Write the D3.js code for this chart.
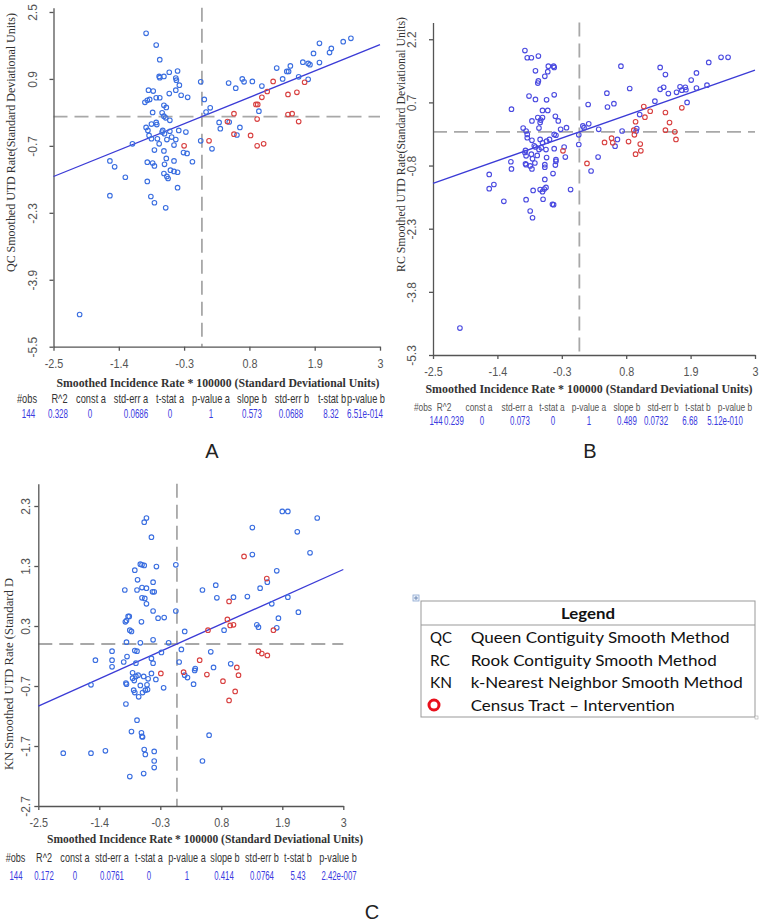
<!DOCTYPE html>
<html><head><meta charset="utf-8">
<script src="https://cdn.jsdelivr.net/npm/d3@7"></script>
<style>
html,body{margin:0;padding:0;background:#fff;}
svg{display:block;}
</style></head>
<body>
<svg id="chart" width="762" height="922"></svg>
<script>
// ---------------- DATA ----------------
const xTicks = [-2.5, -1.4, -0.3, 0.8, 1.9, 3];
const yTicksQC = [-5.5, -3.9, -2.3, -0.7, 0.9, 2.5];
const yTicksRC = [-5.3, -3.8, -2.3, -0.8, 0.7, 2.2];
const yTicksKN = [-2.7, -1.7, -0.7, 0.3, 1.3, 2.3];

const qcBlue = [[-0.94,1.99],[-0.77,1.71],[-0.71,1.36],[-0.72,0.96],[-0.71,0.93],[-0.64,0.96],[-0.55,1.06],[-0.44,0.92],[-0.43,0.87],[-0.41,1.09],[-0.38,0.75],[-0.90,0.63],[-0.82,0.61],[-0.55,0.55],[-0.44,0.63],[-0.35,0.51],[-0.24,0.46],[-0.96,0.34],[-0.92,0.39],[-0.88,0.41],[-0.77,0.45],[-0.71,0.45],[-0.64,0.27],[-0.60,0.22],[-0.83,0.10],[-0.67,0.09],[-0.64,0.01],[-0.61,-0.03],[-0.54,-0.09],[-0.85,-0.18],[-0.77,-0.14],[-0.94,-0.26],[-0.91,-0.33],[-0.76,-0.19],[-0.66,-0.33],[-0.67,-0.37],[-0.63,-0.41],[-0.54,-0.35],[-0.51,-0.49],[-0.39,-0.33],[-0.27,-0.37],[-0.89,-0.45],[-0.75,-0.53],[-0.85,-0.53],[-0.72,-0.65],[-0.59,-0.55],[-0.44,-0.55],[-0.47,-0.68],[-0.80,-0.80],[-0.64,-0.82],[-0.31,-0.86],[-0.25,-0.88],[-0.16,-1.08],[-0.60,-1.00],[-0.92,-1.09],[-0.83,-1.11],[-0.80,-1.18],[-0.63,-1.14],[-0.47,-1.06],[-0.53,-1.28],[-0.47,-1.31],[-0.41,-1.33],[-0.64,-1.36],[-0.59,-1.43],[-0.57,-1.48],[-0.92,-1.55],[-0.41,-1.70],[-1.17,-0.65],[-1.55,-1.06],[-1.47,-1.20],[-1.29,-1.45],[-1.55,-1.89],[-0.86,-1.91],[-0.80,-2.06],[-0.61,-2.18],[-2.06,-4.73],
[-0.02,0.83],[0.04,0.41],[0.07,0.11],[0.14,0.21],[-0.02,-0.58],[0.17,-0.77],[0.29,-0.14],[0.31,-0.29],[0.45,0.80],[0.46,-0.13],[0.57,0.68],[0.59,-0.44],[0.64,-0.26],[0.68,0.90],[0.71,0.83],[0.85,0.84],[0.96,0.13],[1.01,0.73],[1.26,1.16],[1.36,0.90],[1.43,1.08],[1.46,1.08],[1.49,1.21],[1.63,0.95],[1.70,1.30],[1.79,1.27],[1.82,1.24],[1.79,0.89],[1.88,1.51],[1.98,1.75],[1.98,1.29],[2.15,1.53],[2.18,1.63],[2.38,1.79],[2.51,1.87]];
const qcRed = [[-0.30,-0.70],[0.12,-0.58],[0.43,-0.12],[0.54,0.07],[0.54,-0.42],[0.82,-0.45],[0.93,-0.70],[1.04,-0.65],[0.93,-0.06],[0.91,0.29],[0.94,0.29],[1.01,0.46],[1.10,0.60],[1.20,0.84],[1.45,0.53],[1.60,0.58],[1.73,0.82],[1.45,0.05],[1.52,0.07],[1.63,-0.12]];

const rcBlue = [[-0.93,1.93],[-0.89,1.76],[-0.82,1.76],[-0.70,1.80],[-0.75,1.45],[-0.70,1.21],[-0.71,1.16],[-0.59,1.32],[-0.54,1.43],[-0.53,1.56],[-0.44,1.56],[-0.43,1.53],[-0.86,0.85],[-0.75,0.77],[-0.56,0.76],[-0.43,0.88],[-1.16,0.54],[-0.63,0.51],[-0.54,0.51],[-0.71,0.34],[-0.81,0.26],[-0.66,0.28],[-0.67,0.22],[-0.63,0.34],[-0.41,0.37],[-0.36,0.26],[-0.96,0.09],[-0.91,0.02],[-0.89,-0.06],[-0.69,0.09],[-0.89,-0.14],[-0.81,-0.20],[-0.67,-0.18],[-0.63,-0.26],[-0.56,-0.22],[-0.51,-0.18],[-0.43,-0.06],[-0.40,-0.08],[-0.32,0.06],[-0.22,0.10],[-0.92,-0.44],[-0.93,-0.49],[-0.77,-0.33],[-0.75,-0.36],[-0.69,-0.42],[-0.65,-0.38],[-0.57,-0.42],[-0.43,-0.40],[-0.26,-0.36],[-0.91,-0.57],[-0.82,-0.53],[-0.72,-0.56],[-0.80,-0.64],[-0.56,-0.61],[-0.40,-0.66],[-0.40,-0.70],[-0.24,-0.60],[-1.17,-0.71],[-1.16,-0.88],[-0.92,-0.76],[-0.91,-0.78],[-0.84,-0.81],[-0.81,-0.88],[-0.76,-0.74],[-0.59,-0.78],[-0.59,-0.84],[-0.41,-0.79],[-0.45,-0.99],[-0.59,-1.13],[-1.54,-1.01],[-1.54,-1.35],[-1.46,-1.25],[-0.79,-1.39],[-0.67,-1.37],[-0.63,-1.42],[-0.60,-1.36],[-0.57,-1.32],[-0.62,-1.60],[-0.91,-1.61],[-1.29,-1.65],[-0.46,-1.72],[-0.44,-1.73],[-0.15,-1.37],[-0.84,-1.88],[-0.80,-2.04],[-2.04,-4.66],
[-0.01,-0.30],[-0.01,-0.07],[0.06,0.14],[0.08,0.10],[0.15,0.65],[0.16,0.19],[0.33,0.06],[0.32,-0.60],[0.20,-0.93],[0.47,0.92],[0.48,0.59],[0.59,0.67],[0.61,-0.34],[0.65,-0.18],[0.71,1.56],[0.73,0.02],[0.86,1.03],[0.98,0.08],[0.97,0.02],[1.03,0.41],[1.29,0.73],[1.38,1.01],[1.38,1.53],[1.44,1.06],[1.47,1.36],[1.52,0.91],[1.66,0.94],[1.72,1.07],[1.75,0.99],[1.81,1.06],[1.82,1.00],[1.91,1.23],[2.00,1.40],[2.00,1.04],[1.84,0.70],[2.18,1.11],[2.21,1.65],[2.42,1.77],[2.54,1.77]];
const rcRed = [[-0.28,-0.45],[0.13,-0.75],[0.43,-0.25],[0.55,-0.15],[0.57,-0.26],[0.84,-0.23],[0.93,0.04],[0.94,-0.07],[0.96,-0.53],[1.04,-0.29],[1.05,-0.45],[0.96,0.24],[1.10,0.60],[1.12,0.35],[1.21,0.49],[1.47,0.46],[1.47,0.04],[1.54,0.22],[1.63,0.00],[1.65,-0.18],[1.75,0.57]];

const knBlue = [[-0.59,2.03],[-0.55,2.10],[-0.46,1.78],[-0.66,1.33],[-0.63,1.32],[-0.59,1.31],[-0.37,1.29],[-0.76,1.23],[-0.02,1.32],[-0.71,1.07],[-0.43,1.03],[-0.94,0.90],[-0.72,0.90],[-0.63,0.94],[-0.55,0.93],[-0.63,0.77],[-0.58,0.76],[-0.55,0.67],[-0.44,0.87],[-0.41,0.87],[-0.43,0.55],[-0.02,0.55],[-0.34,0.43],[-0.23,0.44],[-0.88,0.46],[-0.86,0.46],[-0.91,0.39],[-0.93,0.37],[-0.64,0.37],[-0.85,0.23],[-0.82,0.21],[0.14,0.21],[-0.91,0.03],[-0.66,0.02],[-0.43,0.07],[-0.15,0.02],[0.08,-0.09],[-0.76,-0.11],[-0.72,-0.12],[-1.17,-0.12],[-0.28,-0.14],[-0.90,-0.21],[-1.47,-0.27],[-1.17,-0.27],[-0.96,-0.30],[-1.17,-0.38],[-0.74,-0.32],[-0.46,-0.24],[-0.43,-0.32],[0.04,-0.30],[0.61,-0.13],[0.46,0.90],[0.70,0.98],[0.72,0.77],[1.02,0.78],[1.27,0.79],[1.36,1.94],[1.36,1.49],[1.50,0.93],[1.63,1.03],[1.80,1.22],[1.71,0.67],[2.00,0.78],[2.17,1.87],[2.40,1.52],[1.90,2.21],[2.00,2.21],[2.53,2.10],[2.19,0.53],[1.83,0.43],[1.80,0.27],[1.44,0.32],[1.47,0.28],[0.85,0.23],[0.33,-0.41],[0.66,-0.39],[0.97,-0.33],
[-1.55,-0.68],[-0.92,-0.65],[-0.91,-0.67],[-0.80,-0.48],[-0.80,-0.57],[-0.77,-0.61],[-0.74,-0.54],[-0.70,-0.52],[-0.60,-0.54],[-0.52,-0.58],[-0.46,-0.49],[-0.38,-0.59],[-0.66,-0.69],[-0.54,-0.68],[-0.53,-0.76],[-0.62,-0.81],[-0.78,-0.77],[-0.76,-0.81],[-0.69,-0.88],[-0.57,-0.77],[-0.24,-0.73],[-0.92,-1.00],[-0.72,-1.27],[-0.82,-1.46],[-0.64,-1.48],[-0.63,-1.54],[-0.62,-1.55],[0.58,-1.52],[-2.05,-1.82],[-1.55,-1.82],[-1.29,-1.78],[-0.59,-1.76],[-0.57,-1.84],[-0.41,-1.79],[-0.41,-1.95],[-0.41,-2.06],[-0.60,-2.16],[-0.85,-2.21],[0.46,-1.95],[0.30,-0.67],[0.14,-0.52],[0.19,-0.56],[0.32,-0.44]];
const knRed = [[1.21,1.46],[1.62,1.09],[0.94,0.71],[0.91,0.41],[0.96,0.31],[1.02,0.32],[0.56,0.23],[1.74,0.23],[1.47,-0.12],[1.53,-0.16],[1.63,-0.19],[0.41,-0.27],[1.08,-0.39],[-0.29,-0.49],[0.12,-0.47],[0.54,-0.51],[0.83,-0.62],[1.11,-0.52],[1.05,-0.79],[0.94,-0.94]];

const statHeaders = ["#obs","R^2","const a","std-err a","t-stat a","p-value a","slope b","std-err b","t-stat b","p-value b"];
const statsQC = ["144","0.328","0","0.0686","0","1","0.573","0.0688","8.32","6.51e-014"];
const statsRC = ["144","0.239","0","0.073","0","1","0.489","0.0732","6.68","5.12e-010"];
const statsKN = ["144","0.172","0","0.0761","0","1","0.414","0.0764","5.43","2.42e-007"];
const slopes = {QC: 0.573, RC: 0.489, KN: 0.414};

const xTitle = "Smoothed Incidence Rate * 100000 (Standard Deviational Units)";
const legendRows = [["QC","Queen Contiguity Smooth Method"],["RC","Rook Contiguity Smooth Method"],["KN","k-Nearest Neighbor Smooth Method"],["","Census Tract \u2013 Intervention"]];

// ---------------- LAYOUT ----------------
const svg = d3.select("#chart");
const BLUE_PT = "#3a6ee0", BLUE_PT_B = "#4a4ae0", RED_PT = "#d84040";
const SANS = "'Liberation Sans', Arial, sans-serif";
const SERIF = "'Liberation Serif', 'Times New Roman', serif";

const panels = [
  {key:"QC", blue:qcBlue, red:qcRed, yTicks:yTicksQC, stats:statsQC, ptBlue:BLUE_PT,
   xr:[53.5,380], yd:[-5.5,2.6], yr:[346.7,7.8], tickOff:17,
   yTitle:"QC Smoothed UTD Rate(Standard Deviational Units)", yTitleX:15, yTitleY:142.5, yTitleLen:259,
   xTitleX:218, xTitleY:387, xTitleLen:323, xTickY:21,
   hdrCols:[27,59.5,91,131,170,211,252,292,332,366], valCols:[28.5,58,90,136,170,211,252,291,331,365],
   hdrY:403, valY:418, hdrSize:12.5, hdrScale:0.74, valSize:12.5, valScale:0.64, hdrColor:"#333",
   letter:"A", letterX:212, letterY:458},
  {key:"RC", blue:rcBlue, red:rcRed, yTicks:yTicksRC, stats:statsRC, ptBlue:BLUE_PT_B,
   xr:[433,755], yd:[-5.3,2.6], yr:[355,22.4], tickOff:17,
   yTitle:"RC Smoothed UTD Rate(Standard Deviational Units)", yTitleX:405, yTitleY:144.5, yTitleLen:255,
   xTitleX:589, xTitleY:393, xTitleLen:327, xTickY:21,
   hdrCols:[423,444,479,517,552,589,627,663,698,735], valCols:[436,454,482,520,553,589,627,656,690,725],
   hdrY:411, valY:424.5, hdrSize:11, hdrScale:0.76, valSize:12, valScale:0.66, hdrColor:"#555",
   letter:"B", letterX:590, letterY:458},
  {key:"KN", blue:knBlue, red:knRed, yTicks:yTicksKN, stats:statsKN, ptBlue:BLUE_PT,
   xr:[38.3,343.3], yd:[-2.7,2.67], yr:[806,483.8], tickOff:8,
   yTitle:"KN Smoothed UTD Rate (Standard D", yTitleX:13, yTitleY:674, yTitleLen:192,
   xTitleX:205, xTitleY:843, xTitleLen:316, xTickY:21,
   hdrCols:[15.5,44,75,112,149,187,225,262,298,338], valCols:[16,44,75,112,149,187,224,262,298,339],
   hdrY:862, valY:880, hdrSize:13, hdrScale:0.7, valSize:13, valScale:0.6, hdrColor:"#333",
   letter:"C", letterX:372, letterY:919}
];

panels.forEach(p => {
  const x = d3.scaleLinear().domain([-2.5, 3]).range(p.xr);
  const y = d3.scaleLinear().domain(p.yd).range(p.yr);
  const g = svg.append("g");

  // dashed reference lines at 0
  g.append("line").attr("x1", x(0)).attr("x2", x(0)).attr("y1", y(p.yd[1])).attr("y2", y(p.yd[0]))
    .attr("stroke", "#a8a8a8").attr("stroke-width", 1.8).attr("stroke-dasharray", "14,7");
  g.append("line").attr("x1", x(-2.5)).attr("x2", x(3)).attr("y1", y(0)).attr("y2", y(0))
    .attr("stroke", "#a8a8a8").attr("stroke-width", 1.8).attr("stroke-dasharray", "14,7");

  // axes
  const yAxis = d3.axisLeft(y).tickValues(p.yTicks).tickSize(4).tickSizeOuter(0).tickFormat(d => String(d));
  const gy = g.append("g").attr("transform", `translate(${p.xr[0]},0)`).call(yAxis);
  gy.selectAll("text").attr("x", null).attr("dy", null).attr("text-anchor", "middle")
    .attr("transform", `translate(${-p.tickOff},0) rotate(-90)`)
    .attr("font-family", SANS).attr("font-size", 12).attr("fill", "#555");
  const xAxis = d3.axisBottom(x).tickValues(xTicks).tickSize(4).tickSizeOuter(0).tickFormat(d => String(d));
  const gx = g.append("g").attr("transform", `translate(0,${y(p.yd[0])})`).call(xAxis);
  gx.selectAll("text").attr("y", p.xTickY).attr("dy", null)
    .attr("transform", "scale(0.9,1)")
    .attr("font-family", SANS).attr("font-size", 12).attr("fill", "#555");
  g.selectAll(".domain, .tick line").attr("stroke", "#555").attr("stroke-width", 1.3);

  // regression line
  g.append("line").attr("x1", x(-2.5)).attr("y1", y(-2.5 * slopes[p.key]))
    .attr("x2", x(3)).attr("y2", y(3 * slopes[p.key]))
    .attr("stroke", "#3b3bd6").attr("stroke-width", 1.3);

  // points
  g.append("g").selectAll("circle").data(p.blue).join("circle")
    .attr("cx", d => x(d[0])).attr("cy", d => y(d[1])).attr("r", 2.3)
    .attr("fill", "none").attr("stroke", p.ptBlue).attr("stroke-width", 1.1);
  g.append("g").selectAll("circle").data(p.red).join("circle")
    .attr("cx", d => x(d[0])).attr("cy", d => y(d[1])).attr("r", 2.3)
    .attr("fill", "none").attr("stroke", RED_PT).attr("stroke-width", 1.1);

  // titles
  g.append("text").text(p.yTitle)
    .attr("transform", `translate(${p.yTitleX},${p.yTitleY}) rotate(-90)`)
    .attr("text-anchor", "middle").attr("font-family", SERIF)
    .attr("font-size", 12).attr("fill", "#333")
    .attr("textLength", p.yTitleLen).attr("lengthAdjust", "spacingAndGlyphs");
  g.append("text").text(xTitle)
    .attr("x", p.xTitleX).attr("y", p.xTitleY).attr("text-anchor", "middle")
    .attr("font-family", SERIF).attr("font-weight", "bold")
    .attr("font-size", 11.5).attr("fill", "#333")
    .attr("textLength", p.xTitleLen).attr("lengthAdjust", "spacingAndGlyphs");

  // stats table
  statHeaders.forEach((h, i) => {
    g.append("text").text(h)
      .attr("transform", `translate(${p.hdrCols[i]},${p.hdrY}) scale(${p.hdrScale},1)`)
      .attr("text-anchor", "middle").attr("font-family", SANS)
      .attr("font-size", p.hdrSize).attr("fill", p.hdrColor);
    g.append("text").text(p.stats[i])
      .attr("transform", `translate(${p.valCols[i]},${p.valY}) scale(${p.valScale},1)`)
      .attr("text-anchor", "middle").attr("font-family", SANS)
      .attr("font-size", p.valSize).attr("fill", "#3b3be0");
  });

  // panel letter
  g.append("text").text(p.letter).attr("x", p.letterX).attr("y", p.letterY)
    .attr("text-anchor", "middle").attr("font-family", SANS)
    .attr("font-size", 20).attr("fill", "#222");
});

// ---------------- LEGEND ----------------
const lg = svg.append("g");
lg.append("rect").attr("x", 421).attr("y", 601).attr("width", 334).attr("height", 116)
  .attr("fill", "#fff").attr("stroke", "#999").attr("stroke-width", 1);
lg.append("line").attr("x1", 421).attr("x2", 755).attr("y1", 625).attr("y2", 625)
  .attr("stroke", "#999").attr("stroke-width", 1);
lg.append("text").text("Legend").attr("x", 588).attr("y", 618.5).attr("text-anchor", "middle")
  .attr("font-family", "Lato, 'Open Sans', sans-serif").attr("font-weight", "bold").attr("font-size", 16)
  .attr("fill", "#111").attr("textLength", 54).attr("lengthAdjust", "spacingAndGlyphs");
const rowY = [643, 665.5, 688, 710.5];
const rowLen = [259, 246, 272, 204];
const abbrLen = [22, 20, 22];
legendRows.forEach((r, i) => {
  if (r[0]) {
    lg.append("text").text(r[0]).attr("x", 430).attr("y", rowY[i])
      .attr("font-family", "Lato, 'Open Sans', sans-serif").attr("font-size", 16).attr("fill", "#111")
      .attr("textLength", abbrLen[i]).attr("lengthAdjust", "spacingAndGlyphs");
  } else {
    lg.append("circle").attr("cx", 434).attr("cy", 705).attr("r", 5)
      .attr("fill", "none").attr("stroke", "#e8101c").attr("stroke-width", 3);
  }
  lg.append("text").text(r[1]).attr("x", 470.7).attr("y", rowY[i])
    .attr("font-family", "Lato, 'Open Sans', sans-serif").attr("font-size", 16).attr("fill", "#111")
    .attr("textLength", rowLen[i]).attr("lengthAdjust", "spacingAndGlyphs");
});
// small handle icons
lg.append("rect").attr("x", 413).attr("y", 595).attr("width", 6).attr("height", 6)
  .attr("fill", "#eef3fb").attr("stroke", "#8aa6d0").attr("stroke-width", 0.8);
lg.append("path").attr("d", "M416,596 V600 M414,598 H418").attr("stroke", "#5577aa").attr("stroke-width", 0.8);
lg.append("rect").attr("x", 755).attr("y", 716).attr("width", 3).attr("height", 3)
  .attr("fill", "#fff").attr("stroke", "#aaa").attr("stroke-width", 0.6);
</script>
</body></html>
